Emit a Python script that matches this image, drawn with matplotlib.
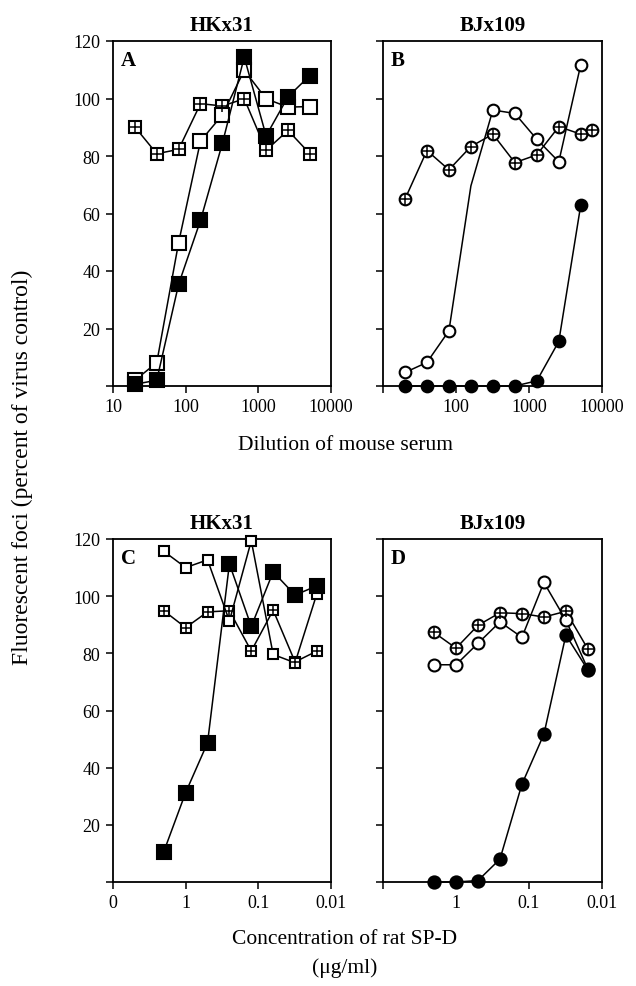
import matplotlib.pyplot as plt
from matplotlib.ticker import FixedLocator, NullLocator

plt.rcParams['font.family'] = ['Liberation Serif', 'DejaVu Serif']

# mouse serum dilutions (panels A, B)
dilution = [20, 40, 80, 160, 320, 640, 1280, 2560, 5120]
bj_cross_dilution = [20, 40, 80, 160, 320, 640, 1280, 2560, 5120, 7400]

hk_serum_filled = [0.6, 2, 35.4, 57.6, 84.4, 114.4, 87, 100.6, 108]
hk_serum_open = [2, 8.1, 49.9, 85.2, 94.3, 109.8, 99.9, 97, 97.2]
hk_serum_hatch = [90.1, 80.8, 82.3, 98.2, 97.4, 99.9, 82, 88.9, 80.8]

bj_serum_filled = [0, 0, 0, 0, 0, 0, 1.8, 15.5, 63]
bj_serum_open = [4.7, 8.2, 19.2, 69.6, 96, 94.8, 85.8, 78, 111.8]
bj_serum_cross = [65, 81.9, 75.2, 83.3, 87.6, 77.7, 80.4, 90.2, 87.6, 89]

# rat SP-D concentrations, ug/ml (panels C, D)
conc = [2, 1, 0.5, 0.25, 0.125, 0.0625, 0.03125, 0.015625]

hk_spd_filled = [10.6, 31.3, 48.7, 111.3, 89.4, 108.5, 100.4, 103.6]
hk_spd_open = [115.7, 110, 112.7, 91.3, 119.4, 79.6, 76.7, 100.9]
hk_spd_hatch = [94.9, 89, 94.5, 94.9, 80.8, 95.1, 77, 80.8]

bj_spd_filled = [0, 0, 0.5, 8, 34.2, 51.7, 86.4, 74.2]
bj_spd_open = [76, 76, 83.5, 91, 85.6, 104.8, 91.6, 74.5]
bj_spd_cross = [87.3, 81.8, 89.8, 94.2, 93.9, 92.7, 94.7, 81.5]

y_ticks = [0, 20, 40, 60, 80, 100, 120]
y_labels = ['', '20', '40', '60', '80', '100', '120']
serum_ticks = [10, 100, 1000, 10000]
conc_ticks = [10, 1, 0.1, 0.01]
conc_labels = ['0', '1', '0.1', '0.01']


def draw(ax, x, y, marker, filled, ms, cross=False, markevery=None, z=3):
    ax.plot(x, y, color='black', lw=1.1, marker=marker, ms=ms,
            mfc='black' if filled else 'white', mec='black', mew=1.5,
            markevery=markevery, clip_on=False, zorder=z)
    if cross:
        ax.plot(x, y, linestyle='none', marker='+', ms=ms, mec='black',
                mew=1.1, markevery=markevery, clip_on=False, zorder=z + 0.5)


def style(ax, letter, title=None):
    ax.set_ylim(0, 120)
    ax.yaxis.set_major_locator(FixedLocator(y_ticks))
    ax.yaxis.set_minor_locator(NullLocator())
    ax.xaxis.set_minor_locator(NullLocator())
    ax.tick_params(direction='out', length=5, width=1.1, labelsize=13,
                   top=False, right=False, pad=4)
    for sp in ax.spines.values():
        sp.set_linewidth(1.3)
    ax.text(0.035, 0.975, letter, transform=ax.transAxes, fontsize=15,
            fontweight='bold', va='top', ha='left')
    if title:
        ax.set_title(title, fontsize=15, fontweight='bold', pad=8)


fig = plt.figure(figsize=(6.36, 9.87), dpi=100)
W, H = 636, 987


def box(left, right, top, bottom):
    return [left / W, (H - bottom) / H, (right - left) / W, (bottom - top) / H]


axA = fig.add_axes(box(113, 331, 42, 387))
axB = fig.add_axes(box(383, 602, 42, 387))
axC = fig.add_axes(box(113, 331, 540, 883))
axD = fig.add_axes(box(383, 602, 540, 883))

# panel A
draw(axA, dilution, hk_serum_hatch, 's', False, 8.6, cross=True)
draw(axA, dilution, hk_serum_open, 's', False, 9.6)
draw(axA, dilution, hk_serum_filled, 's', True, 10.4)

# panel B
draw(axB, bj_cross_dilution, bj_serum_cross, 'o', False, 8.4, cross=True)
draw(axB, dilution, bj_serum_open, 'o', False, 8.4,
     markevery=[0, 1, 2, 4, 5, 6, 7, 8])
draw(axB, dilution, bj_serum_filled, 'o', True, 8.4)

for ax in (axA, axB):
    ax.set_xscale('log')
    ax.set_xlim(10, 10000)
    ax.xaxis.set_major_locator(FixedLocator(serum_ticks))
    ax.xaxis.set_minor_locator(NullLocator())

axA.set_xticklabels(['10', '100', '1000', '10000'])
axB.set_xticklabels(['', '100', '1000', '10000'])
axA.set_yticklabels(y_labels)
axB.set_yticklabels([])

# panel C
draw(axC, conc, hk_spd_hatch, 's', False, 7.8, cross=True)
draw(axC, conc, hk_spd_open, 's', False, 7.0)
draw(axC, conc, hk_spd_filled, 's', True, 9.4)

# panel D
draw(axD, conc, bj_spd_cross, 'o', False, 8.4, cross=True)
draw(axD, conc, bj_spd_open, 'o', False, 8.6)
draw(axD, conc, bj_spd_filled, 'o', True, 8.8)

for ax in (axC, axD):
    ax.set_xscale('log')
    ax.set_xlim(10, 0.01)
    ax.xaxis.set_major_locator(FixedLocator(conc_ticks))
    ax.xaxis.set_minor_locator(NullLocator())

axC.set_xticklabels(conc_labels)
axD.set_xticklabels([''] + conc_labels[1:])
axC.set_yticklabels(y_labels)
axD.set_yticklabels([])

style(axA, 'A', 'HKx31')
style(axB, 'B', 'BJx109')
style(axC, 'C', 'HKx31')
style(axD, 'D', 'BJx109')

fig.text(345 / W, 1 - 445 / H, 'Dilution of mouse serum', fontsize=15.5,
         ha='center', va='center')
fig.text(345 / W, 1 - 940 / H, 'Concentration of rat SP-D', fontsize=15.5,
         ha='center', va='center')
fig.text(345 / W, 1 - 968 / H, '(\u03bcg/ml)', fontsize=15.5,
         ha='center', va='center')
fig.text(22 / W, 1 - 467 / H, 'Fluorescent foci (percent of virus control)',
         fontsize=17, rotation=90, ha='center', va='center')

fig.savefig('out.png', dpi=100)
